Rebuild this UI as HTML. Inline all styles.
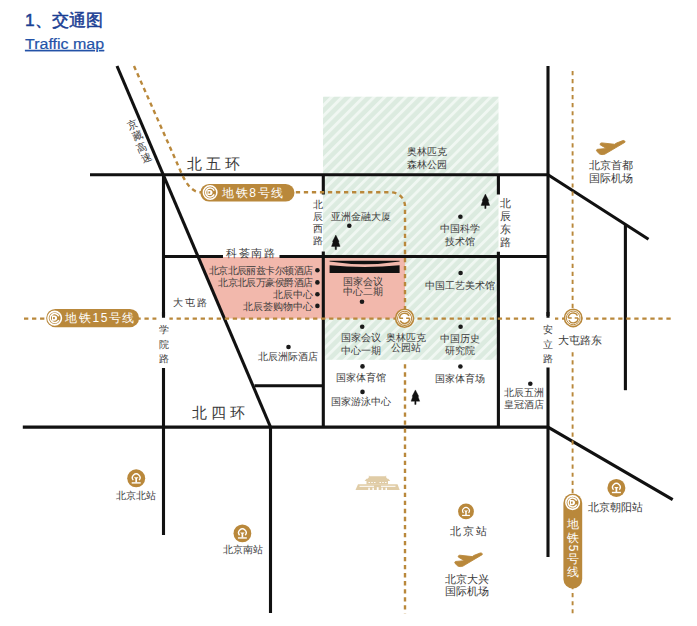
<!DOCTYPE html>
<html><head><meta charset="utf-8">
<style>
html,body{margin:0;padding:0;background:#fff;width:697px;height:626px;overflow:hidden}
body{font-family:"Liberation Sans",sans-serif;position:relative}
svg{position:absolute;left:0;top:0}
</style></head><body>
<svg width="697" height="626" viewBox="0 0 697 626" font-family="Liberation Sans, sans-serif">
<defs>
<pattern id="st" width="7.5" height="7.5" patternUnits="userSpaceOnUse" patternTransform="translate(2.4,0) rotate(45)">
<rect width="7.5" height="7.5" fill="#dcebe0"/>
<rect x="0" y="0" width="2.9" height="7.5" fill="#f0f7f2"/>
</pattern>
</defs>
<text x="25" y="26.2" fill="#1c3f94" font-size="17.3" font-weight="normal" stroke="#1c3f94" stroke-width="0.5">1、交通图</text>
<text transform="translate(25,49) scale(1.16,1)" x="0" y="0" fill="#2453a8" font-size="13.8" stroke="#2453a8" stroke-width="0.2" text-decoration="underline">Traffic map</text>
<rect x="323" y="96.7" width="175.5" height="263.1" fill="url(#st)"/>
<polygon points="198.2,257 405,257 405,318.5 224.3,318.5" fill="#f2b8ac"/>
<g stroke="#111" stroke-width="3.1" fill="none">
<path d="M117,66 L270.5,427"/>
<path d="M90,174.8 H548 L648.5,239.3"/>
<path d="M163.5,174.8 V317.7 M163.5,368 V535"/>
<path d="M163.5,256.5 H223 M279.5,256.5 H548"/>
<path d="M323.3,174.8 V194.5 M323.3,251.5 V427"/>
<path d="M498.4,174.8 V194.4 M498.4,251.8 V427"/>
<path d="M548,66 V317.7 M548,367.5 V557"/>
<path d="M254.5,385.8 H323.3"/>
<path d="M22.8,427.1 H548 L672.7,499.6"/>
<path d="M270.5,427 V613"/>
<path d="M625.4,224.5 V390.2"/>
</g>
<g stroke="#b9883b" stroke-width="2.4" fill="none" stroke-dasharray="4.3 3.73">
<path d="M134,66 L177,163 C182,174.3 188,192.3 201,192.3 H391 A14,14 0 0 1 405,206.3 V310"/>
<path d="M405,364.3 V613.5"/>
</g>
<path d="M24,318.6 H672.5" stroke="#b9883b" stroke-width="2.2" fill="none" stroke-dasharray="4.3 3.73"/>
<path d="M572.6,71 V310 M572.6,352.2 V613.5" stroke="#b9883b" stroke-width="1.9" fill="none" stroke-dasharray="4.2 3.83"/>
<rect x="156.5" y="316" width="12.9" height="6" fill="#fff"/><rect x="534.7" y="316" width="20.3" height="6" fill="#fff"/>
<path d="M163.5,312 V317.7 M548,312 V317.7" stroke="#111" stroke-width="3.1"/>
<g fill="#b9883b">
<rect x="200.3" y="184" width="94.2" height="17.5" rx="8.75"/>
<rect x="46.2" y="308.9" width="92.9" height="18.4" rx="9.2"/>
<rect x="563.4" y="493.5" width="18.8" height="95" rx="9.4"/>
</g>
<g transform="translate(210.1,192.5) scale(1.0)"><circle r="6.75" fill="none" stroke="#fff" stroke-width="1.55"/><path d="M4.1,-1.85 A4.5,4.5 0 1 0 4.1,1.85" fill="none" stroke="#fff" stroke-width="1.5"/><path d="M-2.7,-2.6 H-0.2 A2.6,2.6 0 0 1 -0.2,2.6 H-2.7 Z" fill="#fff"/><rect x="-1.6" y="-1.05" width="1.7" height="2.1" fill="#b9883b"/></g>
<g transform="translate(54.7,318.1) scale(1.0)"><circle r="6.75" fill="none" stroke="#fff" stroke-width="1.55"/><path d="M4.1,-1.85 A4.5,4.5 0 1 0 4.1,1.85" fill="none" stroke="#fff" stroke-width="1.5"/><path d="M-2.7,-2.6 H-0.2 A2.6,2.6 0 0 1 -0.2,2.6 H-2.7 Z" fill="#fff"/><rect x="-1.6" y="-1.05" width="1.7" height="2.1" fill="#b9883b"/></g>
<g transform="translate(572.6,502.6) scale(1.0)"><circle r="6.75" fill="none" stroke="#fff" stroke-width="1.55"/><path d="M4.1,-1.85 A4.5,4.5 0 1 0 4.1,1.85" fill="none" stroke="#fff" stroke-width="1.5"/><path d="M-2.7,-2.6 H-0.2 A2.6,2.6 0 0 1 -0.2,2.6 H-2.7 Z" fill="#fff"/><rect x="-1.6" y="-1.05" width="1.7" height="2.1" fill="#b9883b"/></g>
<text x="253.52" y="196.56" font-size="12" text-anchor="middle" fill="#fff" letter-spacing="1.65">地铁8号线</text>
<text x="100.65" y="321.86" font-size="12" text-anchor="middle" fill="#fff" letter-spacing="1.5">地铁15号线</text>
<text x="573.30" y="528.06" font-size="12" text-anchor="middle" fill="#fff">地</text>
<text x="573.30" y="541.76" font-size="12" text-anchor="middle" fill="#fff">铁</text>
<text x="573.30" y="563.06" font-size="12" text-anchor="middle" fill="#fff">号</text>
<text x="573.30" y="576.26" font-size="12" text-anchor="middle" fill="#fff">线</text>
<text transform="translate(573.3,548) rotate(90)" x="0" y="4.2" font-size="12" text-anchor="middle" fill="#fff">5</text>
<text x="215.00" y="168.90" font-size="15" text-anchor="middle" fill="#3a3a3a" letter-spacing="4">北五环</text>
<text x="220.30" y="418.20" font-size="15" text-anchor="middle" fill="#3a3a3a" letter-spacing="4">北四环</text>
<text x="251.35" y="256.99" font-size="10.5" text-anchor="middle" fill="#3a3a3a" letter-spacing="1.5">科荟南路</text>
<text x="190.95" y="306.00" font-size="10" text-anchor="middle" fill="#3a3a3a" letter-spacing="1.7">大屯路</text>
<text x="318.40" y="208.10" font-size="10" text-anchor="middle" fill="#3a3a3a">北</text>
<text x="318.40" y="219.90" font-size="10" text-anchor="middle" fill="#3a3a3a">辰</text>
<text x="318.40" y="232.20" font-size="10" text-anchor="middle" fill="#3a3a3a">西</text>
<text x="318.40" y="243.90" font-size="10" text-anchor="middle" fill="#3a3a3a">路</text>
<text x="505.20" y="207.10" font-size="10.8" text-anchor="middle" fill="#3a3a3a">北</text>
<text x="505.20" y="219.70" font-size="10.8" text-anchor="middle" fill="#3a3a3a">辰</text>
<text x="505.20" y="232.60" font-size="10.8" text-anchor="middle" fill="#3a3a3a">东</text>
<text x="505.20" y="245.50" font-size="10.8" text-anchor="middle" fill="#3a3a3a">路</text>
<text x="163.60" y="332.60" font-size="10" text-anchor="middle" fill="#3a3a3a">学</text>
<text x="163.60" y="347.50" font-size="10" text-anchor="middle" fill="#3a3a3a">院</text>
<text x="163.60" y="362.30" font-size="10" text-anchor="middle" fill="#3a3a3a">路</text>
<text x="547.90" y="332.70" font-size="10" text-anchor="middle" fill="#3a3a3a">安</text>
<text x="547.90" y="347.50" font-size="10" text-anchor="middle" fill="#3a3a3a">立</text>
<text x="547.90" y="362.20" font-size="10" text-anchor="middle" fill="#3a3a3a">路</text>
<g transform="translate(132,124.4) rotate(-23)"><text x="0.00" y="3.99" font-size="10.5" text-anchor="middle" fill="#3a3a3a">京</text></g>
<g transform="translate(137,135.6) rotate(-23)"><text x="0.00" y="3.99" font-size="10.5" text-anchor="middle" fill="#3a3a3a">藏</text></g>
<g transform="translate(141.4,146.9) rotate(-23)"><text x="0.00" y="3.99" font-size="10.5" text-anchor="middle" fill="#3a3a3a">高</text></g>
<g transform="translate(146.2,157.5) rotate(-23)"><text x="0.00" y="3.99" font-size="10.5" text-anchor="middle" fill="#3a3a3a">速</text></g>
<text x="427.40" y="154.88" font-size="10.2" text-anchor="middle" fill="#3a3a3a">奥林匹克</text>
<text x="427.40" y="167.58" font-size="10.2" text-anchor="middle" fill="#3a3a3a">森林公园</text>
<text x="361.00" y="219.88" font-size="10.2" text-anchor="middle" fill="#3a3a3a">亚洲金融大厦</text>
<circle cx="349.3" cy="225.7" r="2.3" fill="#1a1a1a"/>
<path d="M335.80,235.10 L337.40,238.30 L339.10,241.50 L338.50,242.00 L340.10,246.40 L336.45,246.40 L336.45,249.60 L335.15,249.60 L335.15,246.40 L331.50,246.40 L333.10,242.00 L332.50,241.50 L334.20,238.30 Z" fill="#111" stroke="#111" stroke-width="0.4" stroke-linejoin="round"/>
<circle cx="460.4" cy="216.7" r="2.3" fill="#1a1a1a"/>
<text x="459.90" y="232.28" font-size="10.2" text-anchor="middle" fill="#3a3a3a">中国科学</text>
<text x="459.90" y="244.88" font-size="10.2" text-anchor="middle" fill="#3a3a3a">技术馆</text>
<path d="M485.40,194.10 L487.00,197.30 L488.70,200.50 L488.10,201.00 L489.70,205.40 L486.05,205.40 L486.05,208.60 L484.75,208.60 L484.75,205.40 L481.10,205.40 L482.70,201.00 L482.10,200.50 L483.80,197.30 Z" fill="#111" stroke="#111" stroke-width="0.4" stroke-linejoin="round"/>
<text x="312.60" y="274.30" font-size="10" text-anchor="end" fill="#3a3a3a" letter-spacing="-0.55">北京北辰丽兹卡尔顿酒店</text>
<circle cx="317.4" cy="270.3" r="2.3" fill="#1a1a1a"/>
<text x="312.60" y="286.10" font-size="10" text-anchor="end" fill="#3a3a3a" letter-spacing="-0.55">北京北辰万豪侯爵酒店</text>
<circle cx="317.4" cy="282.4" r="2.3" fill="#1a1a1a"/>
<text x="313.00" y="298.40" font-size="10" text-anchor="end" fill="#3a3a3a">北辰中心</text>
<circle cx="317.4" cy="294.3" r="2.3" fill="#1a1a1a"/>
<text x="313.00" y="310.40" font-size="10" text-anchor="end" fill="#3a3a3a">北辰荟购物中心</text>
<circle cx="317.4" cy="305.9" r="2.3" fill="#1a1a1a"/>
<path d="M329.6,260.8 L399.6,260.8 L399.6,261.6 Q364.6,267.0 329.6,261.6 Z" fill="#111"/>
<path d="M329.6,265.3 Q364.6,268.8 399.6,265.3 L399.6,272.9 L329.6,272.9 Z" fill="#111"/>
<text x="363.10" y="285.40" font-size="10" text-anchor="middle" fill="#3a3a3a">国家会议</text>
<text x="363.10" y="295.20" font-size="10" text-anchor="middle" fill="#3a3a3a">中心二期</text>
<circle cx="362" cy="301.8" r="2.3" fill="#1a1a1a"/>
<circle cx="460.6" cy="273" r="2.3" fill="#1a1a1a"/>
<text x="460.20" y="289.30" font-size="10" text-anchor="middle" fill="#3a3a3a">中国工艺美术馆</text>
<circle cx="362.2" cy="326.7" r="2.3" fill="#1a1a1a"/>
<text x="361.00" y="341.40" font-size="10" text-anchor="middle" fill="#3a3a3a">国家会议</text>
<text x="361.00" y="353.50" font-size="10" text-anchor="middle" fill="#3a3a3a">中心一期</text>
<text x="405.70" y="341.40" font-size="10" text-anchor="middle" fill="#3a3a3a">奥林匹克</text>
<text x="405.70" y="350.60" font-size="10" text-anchor="middle" fill="#3a3a3a">公园站</text>
<circle cx="460.6" cy="326.7" r="2.3" fill="#1a1a1a"/>
<text x="459.80" y="342.00" font-size="10" text-anchor="middle" fill="#3a3a3a">中国历史</text>
<text x="459.80" y="353.50" font-size="10" text-anchor="middle" fill="#3a3a3a">研究院</text>
<circle cx="460.4" cy="366.5" r="2.3" fill="#1a1a1a"/>
<text x="459.90" y="381.50" font-size="10" text-anchor="middle" fill="#3a3a3a">国家体育场</text>
<circle cx="288.5" cy="347" r="2.3" fill="#1a1a1a"/>
<text x="287.50" y="360.40" font-size="10" text-anchor="middle" fill="#3a3a3a">北辰洲际酒店</text>
<circle cx="362.5" cy="366.4" r="2.3" fill="#1a1a1a"/>
<text x="361.20" y="381.30" font-size="10" text-anchor="middle" fill="#3a3a3a">国家体育馆</text>
<circle cx="362.5" cy="391.9" r="2.3" fill="#1a1a1a"/>
<text x="361.00" y="405.30" font-size="10" text-anchor="middle" fill="#3a3a3a">国家游泳中心</text>
<path d="M415.40,389.90 L417.00,393.10 L418.70,396.30 L418.10,396.80 L419.70,401.20 L416.05,401.20 L416.05,404.40 L414.75,404.40 L414.75,401.20 L411.10,401.20 L412.70,396.80 L412.10,396.30 L413.80,393.10 Z" fill="#111" stroke="#111" stroke-width="0.4" stroke-linejoin="round"/>
<circle cx="530.3" cy="383.8" r="2.3" fill="#1a1a1a"/>
<text x="524.20" y="395.80" font-size="10" text-anchor="middle" fill="#3a3a3a">北辰五洲</text>
<text x="524.20" y="407.60" font-size="10" text-anchor="middle" fill="#3a3a3a">皇冠酒店</text>
<g transform="translate(404.6,318.3) scale(1.0103092783505156)"><circle r="8.9" fill="#fff" stroke="#b9883b" stroke-width="1.6"/><circle r="7.0" fill="none" stroke="#b9883b" stroke-width="1.0"/><path d="M-5.0,0 H-1.5 M-5.0,0 A5.0,5.0 0 0 1 4.4,-2.4" fill="none" stroke="#b9883b" stroke-width="1.5"/><path d="M5.0,0 H1.5 M5.0,0 A5.0,5.0 0 0 1 -4.4,2.4" fill="none" stroke="#b9883b" stroke-width="1.5"/></g>
<g transform="translate(573.2,317.9) scale(0.9793814432989691)"><circle r="8.9" fill="#fff" stroke="#b9883b" stroke-width="1.6"/><circle r="7.0" fill="none" stroke="#b9883b" stroke-width="1.0"/><path d="M-5.0,0 H-1.5 M-5.0,0 A5.0,5.0 0 0 1 4.4,-2.4" fill="none" stroke="#b9883b" stroke-width="1.5"/><path d="M5.0,0 H1.5 M5.0,0 A5.0,5.0 0 0 1 -4.4,2.4" fill="none" stroke="#b9883b" stroke-width="1.5"/></g>
<text x="579.60" y="344.38" font-size="11" text-anchor="middle" fill="#3a3a3a">大屯路东</text>
<path transform="translate(596,140) scale(1.0,1.0)" d="M28.9,2.3 C29.4,1.2 28.2,0.2 26.8,0.6 L20.6,3.0 L18.6,4.3 L5.9,2.9 C4.6,2.8 3.6,3.8 4.3,4.9 L10.5,8.5 L1.5,9.3 C0.5,9.4 0.2,10.6 0.8,11.3 L3.6,14.0 C5,14.7 7,14.7 8.6,14.3 Z" fill="#b9883b" stroke="#b9883b" stroke-width="0.9" stroke-linejoin="round"/>
<text x="611.20" y="168.68" font-size="11" text-anchor="middle" fill="#3a3a3a">北京首都</text>
<text x="611.20" y="181.98" font-size="11" text-anchor="middle" fill="#3a3a3a">国际机场</text>
<path transform="translate(454.3,552.4) scale(0.9666666666666667,0.9733333333333348)" d="M28.9,2.3 C29.4,1.2 28.2,0.2 26.8,0.6 L20.6,3.0 L18.6,4.3 L5.9,2.9 C4.6,2.8 3.6,3.8 4.3,4.9 L10.5,8.5 L1.5,9.3 C0.5,9.4 0.2,10.6 0.8,11.3 L3.6,14.0 C5,14.7 7,14.7 8.6,14.3 Z" fill="#b9883b" stroke="#b9883b" stroke-width="0.9" stroke-linejoin="round"/>
<text x="467.40" y="582.98" font-size="11" text-anchor="middle" fill="#3a3a3a">北京大兴</text>
<text x="467.40" y="595.18" font-size="11" text-anchor="middle" fill="#3a3a3a">国际机场</text>
<g transform="translate(136.2,478.3) scale(1.0)"><circle r="9.0" fill="#b9883b"/><path d="M-2.9,1.8 A3.8,3.8 0 1 1 2.9,1.8" fill="none" stroke="#fff" stroke-width="1.4"/><path d="M-2.3,-1.0 H2.3 L0.85,0.5 V4.1 H-0.85 V0.5 Z" fill="#fff"/><rect x="-4.5" y="3.9" width="9" height="1.4" fill="#fff"/></g>
<text x="135.50" y="498.88" font-size="10.2" text-anchor="middle" fill="#3a3a3a">北京北站</text>
<g transform="translate(242.4,533.4) scale(0.9888888888888889)"><circle r="9.0" fill="#b9883b"/><path d="M-2.9,1.8 A3.8,3.8 0 1 1 2.9,1.8" fill="none" stroke="#fff" stroke-width="1.4"/><path d="M-2.3,-1.0 H2.3 L0.85,0.5 V4.1 H-0.85 V0.5 Z" fill="#fff"/><rect x="-4.5" y="3.9" width="9" height="1.4" fill="#fff"/></g>
<text x="242.50" y="553.18" font-size="10.2" text-anchor="middle" fill="#3a3a3a">北京南站</text>
<g transform="translate(466,511.4) scale(0.8777777777777778)"><circle r="9.0" fill="#b9883b"/><path d="M-2.9,1.8 A3.8,3.8 0 1 1 2.9,1.8" fill="none" stroke="#fff" stroke-width="1.4"/><path d="M-2.3,-1.0 H2.3 L0.85,0.5 V4.1 H-0.85 V0.5 Z" fill="#fff"/><rect x="-4.5" y="3.9" width="9" height="1.4" fill="#fff"/></g>
<text x="469.30" y="534.58" font-size="11" text-anchor="middle" fill="#3a3a3a" letter-spacing="2">北京站</text>
<g transform="translate(616.4,487.9) scale(1.0)"><circle r="9.0" fill="#b9883b"/><path d="M-2.9,1.8 A3.8,3.8 0 1 1 2.9,1.8" fill="none" stroke="#fff" stroke-width="1.4"/><path d="M-2.3,-1.0 H2.3 L0.85,0.5 V4.1 H-0.85 V0.5 Z" fill="#fff"/><rect x="-4.5" y="3.9" width="9" height="1.4" fill="#fff"/></g>
<text x="615.60" y="511.06" font-size="11.2" text-anchor="middle" fill="#3a3a3a">北京朝阳站</text>
<g fill="#e0cca6"><path d="M355.5,489.9 L358,484.2 L397.5,484.2 L399.7,489.9 Z"/><rect x="366.5" y="480.6" width="21.5" height="3.8"/><path d="M364.6,481 L390.2,481 L388.3,478.8 L366.5,478.8 Z"/><path d="M367.6,479 L387.4,479 L385.6,476.6 L369.4,476.6 Z"/><path d="M368.8,476.8 L368.8,475.6 L370,476.2 L385,476.2 L386.2,475.6 L386.2,476.8 Z"/></g><g fill="#fff"><rect x="359.5" y="485.8" width="14.5" height="1"/><rect x="381" y="485.8" width="14.5" height="1"/><rect x="368.3" y="487.7" width="1.5" height="2.3"/><rect x="372.4" y="487.7" width="1.5" height="2.3"/><rect x="376.8" y="487.2" width="1.8" height="2.8"/><rect x="381.4" y="487.7" width="1.5" height="2.3"/><rect x="385.5" y="487.7" width="1.5" height="2.3"/><rect x="368.5" y="482" width="1.4" height="1"/><rect x="371.3" y="482" width="1.4" height="1"/><rect x="374.1" y="482" width="1.4" height="1"/><rect x="379.5" y="482" width="1.4" height="1"/><rect x="382.3" y="482" width="1.4" height="1"/><rect x="385.1" y="482" width="1.4" height="1"/></g>
</svg>
</body></html>
